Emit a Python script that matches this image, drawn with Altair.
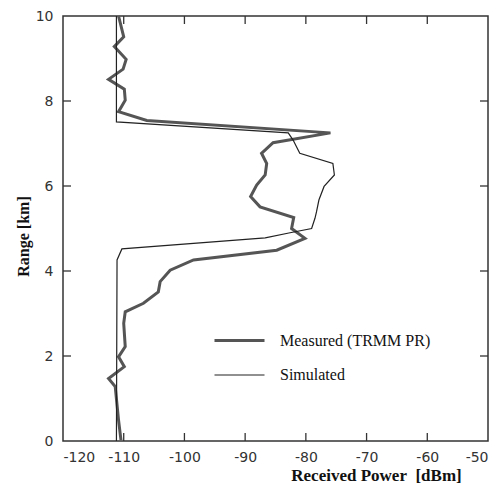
import altair as alt
import pandas as pd

# Measured (TRMM PR): received power [dBm] and range [km], top to bottom
meas_power = [-110.85, -110.0, -111.55, -109.6, -110.1, -112.5, -109.9, -109.75, -110.85,
              -106.2, -75.95, -85.4, -87.3, -86.45, -86.7, -88.1, -89.1, -87.55, -82.0,
              -82.35, -80.15, -84.8, -98.5, -102.35, -104.0, -104.3, -106.75, -109.75,
              -110.0, -109.75, -110.85, -109.9, -112.5, -111.4, -110.85, -110.45]
meas_range = [10.0, 9.51, 9.28, 8.98, 8.75, 8.51, 8.28, 8.02, 7.75,
              7.54, 7.25, 7.02, 6.77, 6.53, 6.26, 6.02, 5.75, 5.51, 5.26,
              5.0, 4.77, 4.49, 4.26, 4.02, 3.75, 3.51, 3.24, 3.04,
              2.77, 2.22, 1.98, 1.75, 1.47, 1.28, 0.49, 0.02]

# Simulated
sim_power = [-111.2, -111.2, -82.9, -82.1, -81.0, -75.55, -75.3, -77.0, -77.85, -78.25,
             -78.5, -79.05, -82.6, -86.7, -110.3, -111.1, -111.2]
sim_range = [10.0, 7.51, 7.25, 7.08, 6.77, 6.53, 6.26, 5.99, 5.67, 5.39,
             5.24, 5.0, 4.9, 4.78, 4.52, 4.26, 0.0]

series_names = ["Measured (TRMM PR)", "Simulated"]
x_ticks = [-120, -110, -100, -90, -80, -70, -60, -50]
y_ticks = [0, 2, 4, 6, 8, 10]
x_inner_ticks = [-110, -100, -90, -80, -70, -60]
y_inner_ticks = [2, 4, 6, 8]

rows = []
for i, (p, r) in enumerate(zip(meas_power, meas_range)):
    rows.append({"series": series_names[0], "idx": i, "power": p, "range": r})
for i, (p, r) in enumerate(zip(sim_power, sim_range)):
    rows.append({"series": series_names[1], "idx": i, "power": p, "range": r})
df = pd.DataFrame(rows)

W, H = 425, 425
xscale = alt.Scale(domain=[-120, -50], nice=False, zero=False)
yscale = alt.Scale(domain=[0, 10], nice=False, zero=False)

legend = alt.Legend(
    title=None, orient="none", legendX=150, legendY=298,
    symbolType="stroke", symbolSize=2500, labelOffset=14,
    labelFont="Liberation Serif", labelFontSize=16, labelColor="#111",
    rowPadding=-2, symbolStrokeColor="#555",
)

lines = alt.Chart(df).mark_line(interpolate="linear").encode(
    x=alt.X("power:Q", scale=xscale,
            axis=alt.Axis(values=x_ticks, title="Received Power\u00a0\u00a0[dBm]", titleX=313,
                          titleY=26, titleAlign="center", grid=False, ticks=False,
                          domain=False, labelPadding=9, titleFontSize=17,
                          labelExpr="'' + datum.value")),
    y=alt.Y("range:Q", scale=yscale,
            axis=alt.Axis(values=y_ticks, title="Range [km]", titleX=-32, titleY=220,
                          grid=False, ticks=False, domain=False, labelPadding=10,
                          titleFontSize=16)),
    color=alt.Color("series:N", scale=alt.Scale(domain=series_names, range=["#555555", "#222222"]),
                    legend=legend),
    strokeWidth=alt.StrokeWidth("series:N", scale=alt.Scale(domain=series_names, range=[3, 1.2]),
                                legend=legend),
    order="idx:Q",
)

xt = pd.DataFrame({"v": x_inner_ticks})
yt = pd.DataFrame({"v": y_inner_ticks})
tick_color = "#333"
bottom_ticks = alt.Chart(xt).mark_rule(color=tick_color, strokeWidth=1.3).encode(
    x=alt.X("v:Q", scale=xscale), y=alt.value(H), y2=alt.value(H - 8))
top_ticks = alt.Chart(xt).mark_rule(color=tick_color, strokeWidth=1.3).encode(
    x=alt.X("v:Q", scale=xscale), y=alt.value(0), y2=alt.value(8))
left_ticks = alt.Chart(yt).mark_rule(color=tick_color, strokeWidth=1.3).encode(
    y=alt.Y("v:Q", scale=yscale), x=alt.value(0), x2=alt.value(8))
right_ticks = alt.Chart(yt).mark_rule(color=tick_color, strokeWidth=1.3).encode(
    y=alt.Y("v:Q", scale=yscale), x=alt.value(W), x2=alt.value(W - 8))

chart = alt.layer(lines, bottom_ticks, top_ticks, left_ticks, right_ticks).properties(
    width=W, height=H,
    autosize=alt.AutoSizeParams(type="none"),
    padding={"left": 55, "top": 8, "right": 7, "bottom": 48},
).configure_view(
    stroke="#333", strokeWidth=1.5
).configure_axis(
    labelFont="DejaVu Sans", labelFontSize=14, labelColor="#333",
    titleFont="Liberation Serif", titleFontSize=16, titleFontWeight="bold", titleColor="#111",
)

chart.save("out.html", embed_options={"renderer": "svg", "actions": False})
